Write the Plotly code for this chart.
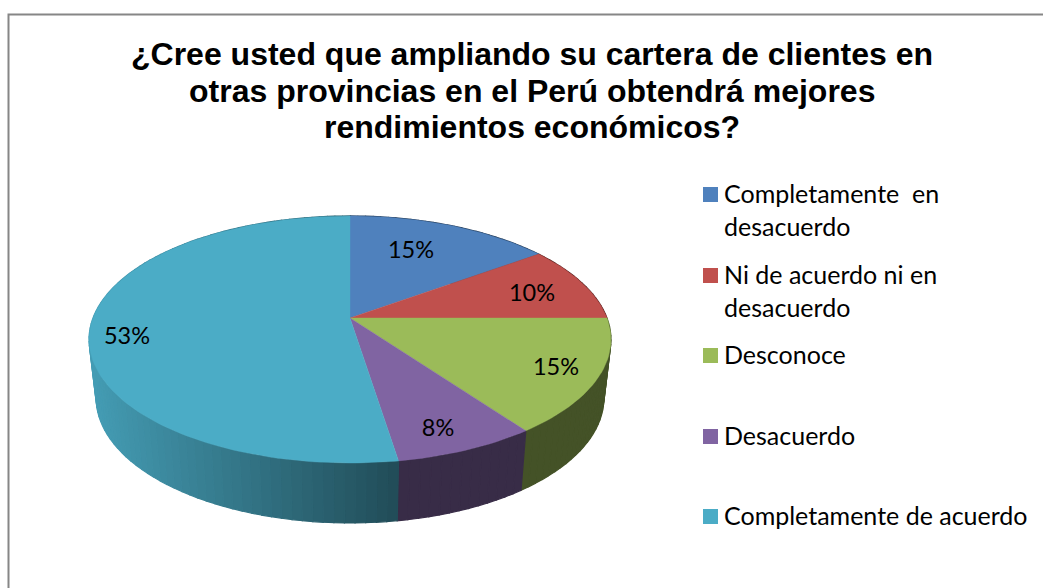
import math
import plotly.graph_objects as go

TITLE_LINES = ["¿Cree usted que ampliando su cartera de clientes en",
               "otras provincias en el Perú obtendrá mejores",
               "rendimientos económicos?"]
CATEGORIES = ["Completamente\u00a0 en<br>desacuerdo", "Ni de acuerdo ni en<br>desacuerdo", "Desconoce", "Desacuerdo", "Completamente de acuerdo"]
VALUES = [15, 10, 15, 7.5, 52.5]

COLORS = ["#4F81BD", "#C0504D", "#9BBB59", "#8064A2", "#4BACC6"]
LABEL_XY = [(411, 252), (532, 295), (556, 369), (438, 430), (127, 338)]
LEGEND_Y = [194.5, 275.5, 355.5, 436.5, 516.5]
TITLE_Y = [54, 90.5, 127]
W, H = 1043, 588
K = 0.174
TOP = dict(cx=350, y0=318, A=257, B=119.8)
BOT = dict(cx=350, y0=376.2, A=250, B=121.2)
FONT = "Lato, 'Open Sans', sans-serif"


def project(plane, theta):
    u, v = math.sin(theta), math.cos(theta)
    d = 1 + K * v
    return plane["cx"] + plane["A"] * u / d, plane["y0"] - plane["B"] * v / d


def arc(plane, a, b, step=math.radians(1.5)):
    n = max(2, int(abs(b - a) / step) + 1)
    return [project(plane, a + (b - a) * i / n) for i in range(n + 1)]


def shade(hex_color, x):
    f = 0.44 if x >= 400 else 0.44 + (400 - x) / 305 * 0.46
    r, g, b = (int(hex_color[i:i + 2], 16) for i in (1, 3, 5))
    return f"rgb({r * f:.0f},{g * f:.0f},{b * f:.0f})"


fig = go.Figure()
total = sum(VALUES)
edges = [0.0]
for v in VALUES:
    edges.append(edges[-1] + v / total * 2 * math.pi)

# extruded wall
for i, color in enumerate(COLORS):
    a, b = edges[i], edges[i + 1]
    segs = max(1, int((b - a) / math.radians(2)))
    for s in range(segs):
        t0, t1 = a + (b - a) * s / segs, a + (b - a) * (s + 1) / segs
        p = arc(TOP, t0, t1) + arc(BOT, t1, t0)
        mx = project(TOP, (t0 + t1) / 2)[0]
        c = shade(color, mx)
        fig.add_trace(go.Scatter(x=[q[0] for q in p] + [p[0][0]], y=[q[1] for q in p] + [p[0][1]],
                                 mode="lines", fill="toself", fillcolor=c,
                                 line=dict(color=c, width=1.2),
                                 hoverinfo="skip", showlegend=False))

# top face
for i, color in enumerate(COLORS):
    p = [(TOP["cx"], TOP["y0"])] + arc(TOP, edges[i], edges[i + 1])
    fig.add_trace(go.Scatter(x=[q[0] for q in p] + [p[0][0]], y=[q[1] for q in p] + [p[0][1]],
                             mode="lines", fill="toself", fillcolor=color,
                             line=dict(color=color, width=0.4), hoverinfo="skip", showlegend=False))

# value labels (rounded half up, as the chart shows them)
fig.add_trace(go.Scatter(x=[q[0] for q in LABEL_XY], y=[q[1] for q in LABEL_XY], mode="text",
                         text=[f"{math.floor(v + 0.5)}%" for v in VALUES], textposition="middle center",
                         textfont=dict(family=FONT, size=23.5, color="#000"),
                         hoverinfo="skip", showlegend=False))

# legend swatches
fig.add_trace(go.Scatter(x=[710.5] * len(COLORS), y=LEGEND_Y, mode="markers",
                         marker=dict(symbol="square", size=15, color=COLORS, line=dict(width=0)),
                         hoverinfo="skip", showlegend=False))

annotations = [dict(x=723, y=y - 18, xref="x", yref="y", xanchor="left", yanchor="top", align="left",
                    text=name, showarrow=False, borderpad=0,
                    font=dict(family=FONT, size=25, color="#000"))
               for name, y in zip(CATEGORIES, LEGEND_Y)]
annotations += [dict(x=531.5, y=y, xref="x", yref="y", xanchor="center", yanchor="middle",
                     text=line, showarrow=False, borderpad=0,
                     font=dict(family="Liberation Sans, Arial, sans-serif", size=32, color="#000", weight="bold"))
                for line, y in zip(TITLE_LINES, TITLE_Y)]

FRAME = [dict(type="path", path=f"M 8.5 {H} L 8.5 14.5 L {W} 14.5", xref="x", yref="y",
              line=dict(color="#868686", width=2))]

fig.update_layout(
    width=W, height=H, margin=dict(l=0, r=0, t=0, b=0), autosize=False,
    paper_bgcolor="#fff", plot_bgcolor="#fff",
    xaxis=dict(range=[0, W], visible=False, fixedrange=True),
    yaxis=dict(range=[H, 0], visible=False, fixedrange=True),
    annotations=annotations, shapes=FRAME,
)
fig.write_html("out.html", config=dict(displayModeBar=False, responsive=False),
               post_script="document.body.style.margin='0';document.documentElement.style.overflow='hidden';")
